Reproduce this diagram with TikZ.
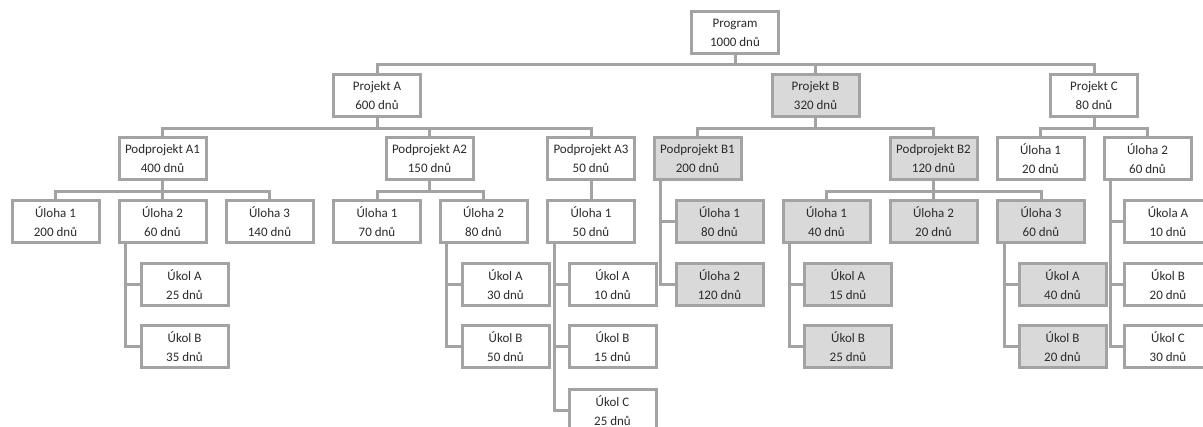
\documentclass[tikz,border=0pt]{standalone}
\usepackage{fontspec}
\setmainfont{Carlito}
\definecolor{lc}{HTML}{A3A3A3}
\definecolor{fc}{HTML}{D9D9D9}
\definecolor{tc}{HTML}{2B2B2B}
\tikzset{
  wbs/.style={rectangle, draw=lc, line width=3pt, fill=white, minimum width=87pt, minimum height=42pt,
    inner sep=0pt, align=center, text=tc, font=\fontsize{13}{19}\selectfont},
  hl/.style={wbs, fill=fc},
  conn/.style={draw=lc, line width=3pt}
}
\begin{document}
\begin{tikzpicture}[x=1pt,y=-1pt]
\useasboundingbox (0,0) rectangle (1203,427);
% level 0
\node[wbs] (prog) at (735,33) {Program\\1000 dnů};
% level 1
\node[wbs] (pA) at (377,96) {Projekt A\\600 dnů};
\node[hl] (pB) at (815.5,96) {Projekt B\\320 dnů};
\node[wbs] (pC) at (1094,96) {Projekt C\\80 dnů};
% level 2
\node[wbs] (A1) at (162.5,158.5) {Podprojekt A1\\400 dnů};
\node[wbs] (A2) at (429.5,158.5) {Podprojekt A2\\150 dnů};
\node[wbs] (A3) at (591,158.5) {Podprojekt A3\\50 dnů};
\node[hl] (B1) at (697.5,158.5) {Podprojekt B1\\200 dnů};
\node[hl] (B2) at (933.5,158.5) {Podprojekt B2\\120 dnů};
\node[wbs] (C1) at (1040.5,158.5) {Úloha 1\\20 dnů};
\node[wbs] (C2) at (1147.5,158.5) {Úloha 2\\60 dnů};
% level 3
\node[wbs] (A1U1) at (55.5,221.5) {Úloha 1\\200 dnů};
\node[wbs] (A1U2) at (162.5,221.5) {Úloha 2\\60 dnů};
\node[wbs] (A1U3) at (269.5,221.5) {Úloha 3\\140 dnů};
\node[wbs] (A2U1) at (377,221.5) {Úloha 1\\70 dnů};
\node[wbs] (A2U2) at (483.5,221.5) {Úloha 2\\80 dnů};
\node[wbs] (A3U1) at (591,221.5) {Úloha 1\\50 dnů};
\node[hl] (B1U1) at (719.5,221.5) {Úloha 1\\80 dnů};
\node[hl] (B1U2) at (719.5,284.5) {Úloha 2\\120 dnů};
\node[hl] (B2U1) at (826.5,221.5) {Úloha 1\\40 dnů};
\node[hl] (B2U2) at (933.5,221.5) {Úloha 2\\20 dnů};
\node[hl] (B2U3) at (1041,221.5) {Úloha 3\\60 dnů};
\node[wbs] (C2KA) at (1168,221.5) {Úkola A\\10 dnů};
\node[wbs] (C2KB) at (1168,284.5) {Úkol B\\20 dnů};
\node[wbs] (C2KC) at (1168,347) {Úkol C\\30 dnů};
% level 4
\node[wbs] (A1KA) at (184.5,284.5) {Úkol A\\25 dnů};
\node[wbs] (A1KB) at (184.5,347) {Úkol B\\35 dnů};
\node[wbs] (A2KA) at (505.5,284.5) {Úkol A\\30 dnů};
\node[wbs] (A2KB) at (505.5,347) {Úkol B\\50 dnů};
\node[wbs] (A3KA) at (612.5,284.5) {Úkol A\\10 dnů};
\node[wbs] (A3KB) at (612.5,347) {Úkol B\\15 dnů};
\node[wbs] (A3KC) at (612.5,410.5) {Úkol C\\25 dnů};
\node[hl] (B2KA) at (848,284.5) {Úkol A\\15 dnů};
\node[hl] (B2KB) at (848,347) {Úkol B\\25 dnů};
\node[hl] (B3KA) at (1062.5,284.5) {Úkol A\\40 dnů};
\node[hl] (B3KB) at (1062.5,347) {Úkol B\\20 dnů};
% connectors
\begin{scope}[on background layer/.style={}]
\foreach \c in {pA,pB,pC} \draw[conn] (prog.south) -- ++(0,9.5) -| (\c.north);
\foreach \c in {A1,A2,A3} \draw[conn] (pA.south) -- ++(0,10.5) -| (\c.north);
\foreach \c in {B1,B2} \draw[conn] (pB.south) -- ++(0,10.5) -| (\c.north);
\foreach \c in {C1,C2} \draw[conn] (pC.south) -- ++(0,10.5) -| (\c.north);
\foreach \c in {A1U1,A1U2,A1U3} \draw[conn] (A1.south) -- ++(0,10.5) -| (\c.north);
\foreach \c in {A2U1,A2U2} \draw[conn] (A2.south) -- ++(0,10.5) -| (\c.north);
\draw[conn] (A3.south) -- (A3U1.north);
\foreach \c in {B2U1,B2U2,B2U3} \draw[conn] (B2.south) -- ++(0,10.5) -| (\c.north);
\foreach \c in {B1U1,B1U2} \draw[conn] ([xshift=8pt]B1.south west) |- (\c.west);
\foreach \c in {C2KA,C2KB,C2KC} \draw[conn] ([xshift=8pt]C2.south west) |- (\c.west);
\foreach \c in {A1KA,A1KB} \draw[conn] ([xshift=8pt]A1U2.south west) |- (\c.west);
\foreach \c in {A2KA,A2KB} \draw[conn] ([xshift=8pt]A2U2.south west) |- (\c.west);
\foreach \c in {A3KA,A3KB,A3KC} \draw[conn] ([xshift=8pt]A3U1.south west) |- (\c.west);
\foreach \c in {B2KA,B2KB} \draw[conn] ([xshift=8pt]B2U1.south west) |- (\c.west);
\foreach \c in {B3KA,B3KB} \draw[conn] ([xshift=8pt]B2U3.south west) |- (\c.west);
\end{scope}
\end{tikzpicture}
\end{document}
